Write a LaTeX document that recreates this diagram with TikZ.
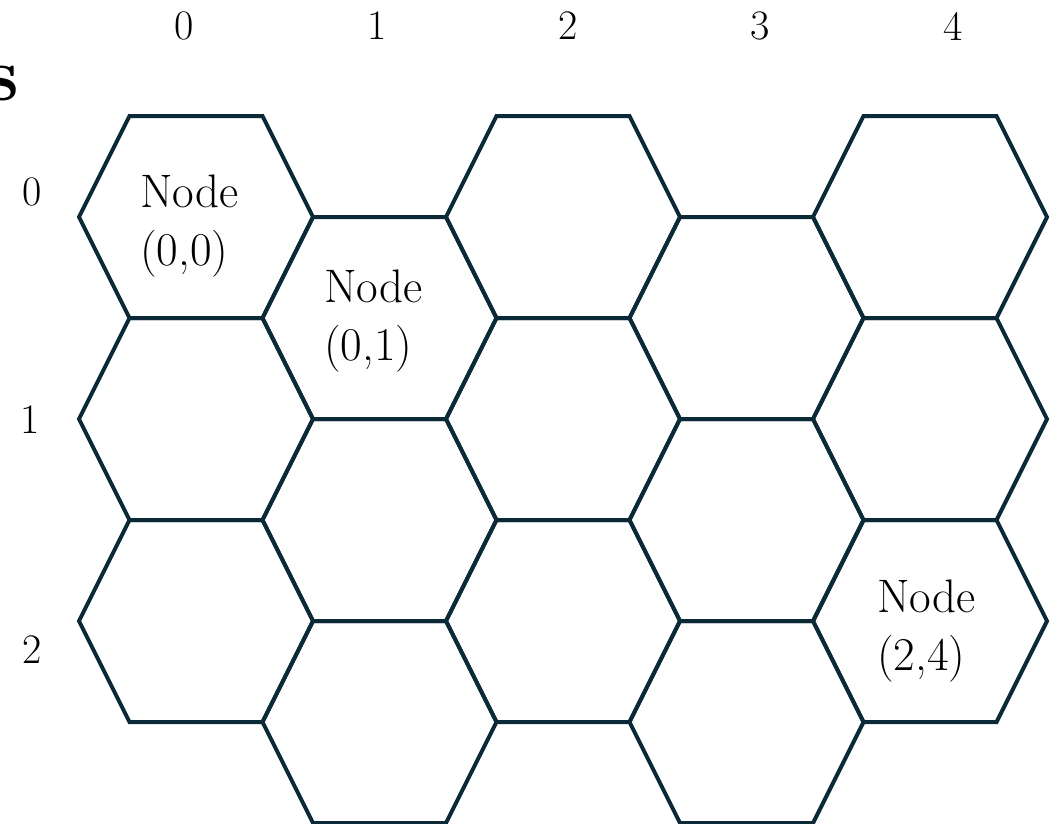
\documentclass[tikz,border=0pt]{standalone}
\definecolor{hexline}{RGB}{12,41,56}
\begin{document}
\begin{tikzpicture}[x=1pt,y=-1pt,
  hexstyle/.style={draw=hexline, line width=4pt, line join=miter},
  lbl/.style={font=\fontsize{42}{48}\selectfont, inner sep=0pt, anchor=center},
  celltext/.style={font=\fontsize{47}{58}\selectfont, align=left, inner sep=0pt, anchor=north west}]
\useasboundingbox (0,0) rectangle (1050,823);
\clip (0,0) rectangle (1050,823);
% hexagon grid
\foreach \c in {0,...,4}{
  \foreach \r in {0,1,2}{
    \pgfmathsetmacro{\xl}{79+183.5*\c}
    \pgfmathsetmacro{\cy}{217+202*\r+101*mod(\c,2)}
    \draw[hexstyle] (\xl,\cy) -- ++(50.5,-101) -- ++(133,0) -- ++(50.5,101)
      -- ++(-50.5,101) -- ++(-133,0) -- cycle;
  }
}
% clipped title fragment
\node[font=\fontsize{76}{84}\selectfont\bfseries, inner sep=0pt, anchor=base east] (title) at (19,100) {s};
% column labels
\node[lbl] (c0) at (184,26) {0};
\node[lbl] (c1) at (377,26) {1};
\node[lbl] (c2) at (568,26) {2};
\node[lbl] (c3) at (760,26) {3};
\node[lbl] (c4) at (953,26) {4};
% row labels
\node[lbl] (r0) at (32,192) {0};
\node[lbl] (r1) at (30,420) {1};
\node[lbl] (r2) at (32,650) {2};
% cell texts
\node[celltext] (n00) at (140,175) {Node\\(0,0)};
\node[celltext] (n01) at (324,270) {Node\\(0,1)};
\node[celltext] (n24) at (877,580) {Node\\(2,4)};
\end{tikzpicture}
\end{document}
